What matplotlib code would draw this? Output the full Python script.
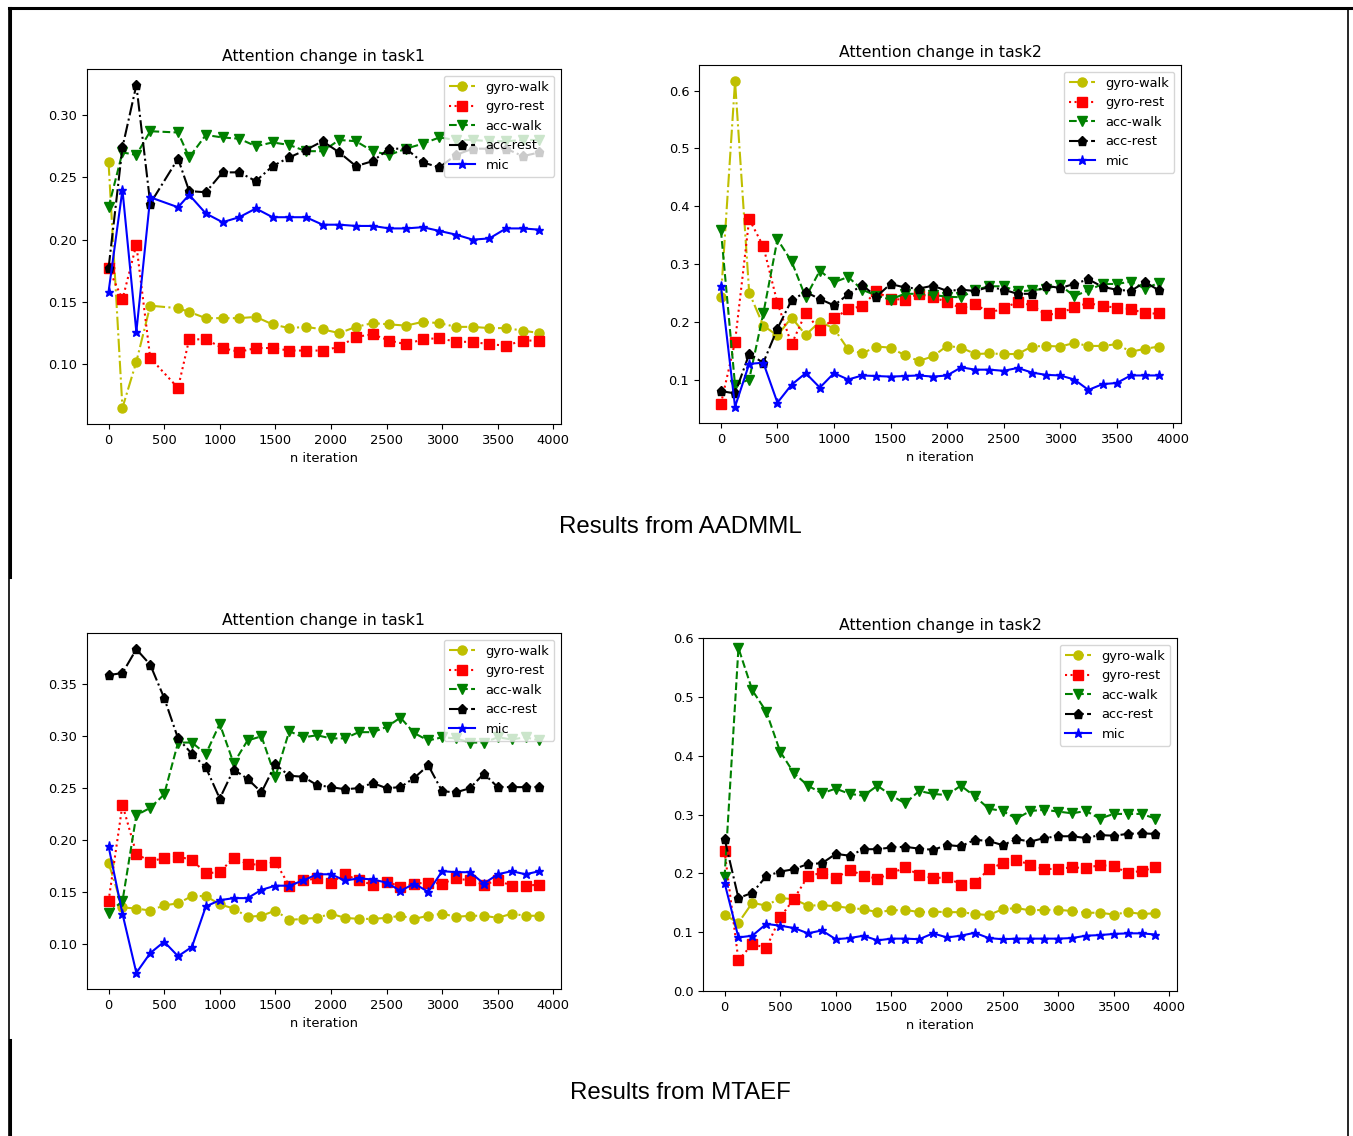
import matplotlib
matplotlib.use("Agg")
import matplotlib.pyplot as plt
from matplotlib.lines import Line2D

# ---------------- data ----------------
series_names = ["gyro-walk", "gyro-rest", "acc-walk", "acc-rest", "mic"]

# iterations (AADMML task1 uses irregular logging steps)
iters_a1 = [0, 125, 250, 375, 625, 725, 875, 1025, 1175, 1325, 1475, 1625, 1775,
            1925, 2075, 2225, 2375, 2525, 2675, 2825, 2975, 3125, 3275, 3425,
            3575, 3725, 3875]
iters = [0, 125, 250, 375, 500, 625, 750, 875, 1000, 1125, 1250, 1375, 1500,
         1625, 1750, 1875, 2000, 2125, 2250, 2375, 2500, 2625, 2750, 2875,
         3000, 3125, 3250, 3375, 3500, 3625, 3750, 3875]

# AADMML - task1
a1_gyro_walk = [0.262, 0.065, 0.102, 0.147, 0.145, 0.142, 0.137, 0.137, 0.137, 0.138,
                0.132, 0.129, 0.130, 0.128, 0.125, 0.130, 0.133, 0.132, 0.131, 0.134,
                0.133, 0.130, 0.130, 0.129, 0.129, 0.127, 0.125]
a1_gyro_rest = [0.177, 0.152, 0.196, 0.105, 0.081, 0.120, 0.120, 0.113, 0.110, 0.113,
                0.113, 0.111, 0.111, 0.111, 0.114, 0.122, 0.124, 0.119, 0.116, 0.120,
                0.121, 0.118, 0.118, 0.116, 0.115, 0.119, 0.119]
a1_acc_walk = [0.226, 0.270, 0.268, 0.287, 0.286, 0.266, 0.284, 0.282, 0.281, 0.275,
               0.278, 0.276, 0.271, 0.271, 0.280, 0.279, 0.271, 0.268, 0.273, 0.277,
               0.282, 0.280, 0.280, 0.279, 0.279, 0.280, 0.280]
a1_acc_rest = [0.177, 0.274, 0.324, 0.229, 0.265, 0.239, 0.238, 0.254, 0.254, 0.247,
               0.259, 0.266, 0.272, 0.279, 0.270, 0.259, 0.263, 0.273, 0.273, 0.262,
               0.258, 0.268, 0.273, 0.273, 0.273, 0.267, 0.270]
a1_mic = [0.158, 0.240, 0.126, 0.234, 0.226, 0.236, 0.221, 0.214, 0.218, 0.225,
          0.218, 0.218, 0.218, 0.212, 0.212, 0.211, 0.211, 0.209, 0.209, 0.210,
          0.207, 0.204, 0.200, 0.201, 0.209, 0.209, 0.208]

# AADMML - task2
a2_gyro_walk = [0.243, 0.616, 0.251, 0.194, 0.177, 0.208, 0.178, 0.201, 0.189, 0.153,
                0.146, 0.158, 0.156, 0.143, 0.133, 0.141, 0.159, 0.156, 0.145, 0.146,
                0.145, 0.145, 0.158, 0.159, 0.158, 0.164, 0.159, 0.159, 0.162, 0.149,
                0.154, 0.158]
a2_gyro_rest = [0.059, 0.166, 0.378, 0.331, 0.233, 0.162, 0.216, 0.186, 0.207, 0.222,
                0.228, 0.253, 0.240, 0.239, 0.249, 0.243, 0.235, 0.224, 0.231, 0.216,
                0.224, 0.235, 0.229, 0.213, 0.215, 0.226, 0.233, 0.228, 0.225, 0.223,
                0.215, 0.215]
a2_acc_walk = [0.359, 0.091, 0.101, 0.215, 0.343, 0.305, 0.243, 0.289, 0.269, 0.278,
               0.256, 0.246, 0.239, 0.249, 0.249, 0.247, 0.244, 0.243, 0.256, 0.262,
               0.262, 0.253, 0.255, 0.258, 0.264, 0.245, 0.255, 0.266, 0.266, 0.270,
               0.258, 0.268]
a2_acc_rest = [0.081, 0.077, 0.145, 0.130, 0.189, 0.238, 0.252, 0.240, 0.229, 0.248,
               0.264, 0.244, 0.266, 0.260, 0.258, 0.263, 0.254, 0.256, 0.254, 0.261,
               0.256, 0.249, 0.249, 0.263, 0.259, 0.266, 0.274, 0.261, 0.256, 0.254,
               0.269, 0.255]
a2_mic = [0.263, 0.054, 0.128, 0.130, 0.061, 0.092, 0.112, 0.087, 0.112, 0.101,
          0.108, 0.107, 0.106, 0.107, 0.108, 0.106, 0.108, 0.122, 0.118, 0.118,
          0.116, 0.121, 0.113, 0.109, 0.108, 0.101, 0.083, 0.093, 0.095, 0.108,
          0.108, 0.108]

# MTAEF - task1
m1_gyro_walk = [0.178, 0.135, 0.134, 0.132, 0.137, 0.139, 0.146, 0.146, 0.138, 0.134,
                0.126, 0.127, 0.132, 0.123, 0.124, 0.125, 0.129, 0.125, 0.124, 0.124,
                0.125, 0.127, 0.124, 0.127, 0.129, 0.126, 0.127, 0.127, 0.125, 0.129,
                0.127, 0.127]
m1_gyro_rest = [0.141, 0.234, 0.187, 0.179, 0.183, 0.184, 0.181, 0.168, 0.169, 0.183,
                0.177, 0.176, 0.179, 0.156, 0.161, 0.163, 0.159, 0.167, 0.161, 0.157,
                0.160, 0.155, 0.158, 0.159, 0.158, 0.163, 0.161, 0.157, 0.161, 0.156,
                0.156, 0.157]
m1_acc_walk = [0.130, 0.141, 0.224, 0.231, 0.244, 0.294, 0.294, 0.283, 0.312, 0.274,
               0.296, 0.300, 0.261, 0.305, 0.299, 0.301, 0.298, 0.298, 0.304, 0.304,
               0.309, 0.318, 0.303, 0.296, 0.299, 0.298, 0.294, 0.294, 0.299, 0.297,
               0.299, 0.296]
m1_acc_rest = [0.359, 0.361, 0.384, 0.369, 0.337, 0.298, 0.283, 0.270, 0.240, 0.268,
               0.259, 0.246, 0.273, 0.262, 0.261, 0.253, 0.251, 0.249, 0.250, 0.255,
               0.250, 0.251, 0.260, 0.272, 0.247, 0.246, 0.250, 0.264, 0.251, 0.251,
               0.251, 0.251]
m1_mic = [0.194, 0.129, 0.072, 0.091, 0.102, 0.088, 0.097, 0.136, 0.142, 0.144,
          0.144, 0.152, 0.156, 0.156, 0.161, 0.167, 0.167, 0.161, 0.163, 0.162,
          0.159, 0.151, 0.158, 0.150, 0.170, 0.169, 0.169, 0.158, 0.167, 0.170,
          0.167, 0.170]

# MTAEF - task2
m2_gyro_walk = [0.129, 0.116, 0.150, 0.145, 0.158, 0.156, 0.145, 0.146, 0.144, 0.141,
                0.139, 0.134, 0.137, 0.138, 0.134, 0.135, 0.134, 0.134, 0.131, 0.129,
                0.139, 0.141, 0.137, 0.138, 0.138, 0.136, 0.133, 0.133, 0.130, 0.134,
                0.131, 0.132]
m2_gyro_rest = [0.238, 0.052, 0.080, 0.073, 0.125, 0.157, 0.195, 0.201, 0.192, 0.206,
                0.196, 0.191, 0.200, 0.210, 0.197, 0.192, 0.193, 0.181, 0.183, 0.207,
                0.217, 0.222, 0.215, 0.207, 0.208, 0.210, 0.209, 0.214, 0.212, 0.201,
                0.204, 0.210]
m2_acc_walk = [0.193, 0.583, 0.511, 0.475, 0.407, 0.370, 0.349, 0.336, 0.344, 0.335,
               0.332, 0.349, 0.332, 0.319, 0.340, 0.335, 0.333, 0.349, 0.331, 0.310,
               0.306, 0.293, 0.306, 0.308, 0.305, 0.302, 0.306, 0.293, 0.301, 0.301,
               0.301, 0.293]
m2_acc_rest = [0.259, 0.158, 0.167, 0.195, 0.203, 0.207, 0.216, 0.217, 0.233, 0.230,
               0.241, 0.241, 0.244, 0.245, 0.242, 0.240, 0.248, 0.246, 0.257, 0.255,
               0.248, 0.258, 0.254, 0.260, 0.263, 0.263, 0.260, 0.265, 0.264, 0.267,
               0.268, 0.267]
m2_mic = [0.184, 0.091, 0.094, 0.114, 0.111, 0.107, 0.098, 0.103, 0.088, 0.090,
          0.094, 0.086, 0.089, 0.089, 0.088, 0.098, 0.091, 0.094, 0.099, 0.090,
          0.088, 0.089, 0.089, 0.089, 0.089, 0.090, 0.094, 0.095, 0.097, 0.098,
          0.098, 0.096]

styles = [dict(color="y", linestyle="-.", marker="o"),
          dict(color="r", linestyle=":", marker="s"),
          dict(color="g", linestyle="--", marker="v"),
          dict(color="k", linestyle="-.", marker="p"),
          dict(color="b", linestyle="-", marker="*")]

W, H = 1353, 1136
fig = plt.figure(figsize=(W / 100, H / 100), dpi=100)

def add_ax(l, t, r, b):
    return fig.add_axes([l / W, 1 - b / H, (r - l) / W, (b - t) / H])

panels = [
    (add_ax(87, 69, 561, 424), iters_a1,
     [a1_gyro_walk, a1_gyro_rest, a1_acc_walk, a1_acc_rest, a1_mic],
     "Attention change in task1", None),
    (add_ax(699, 65, 1181, 423), iters,
     [a2_gyro_walk, a2_gyro_rest, a2_acc_walk, a2_acc_rest, a2_mic],
     "Attention change in task2", None),
    (add_ax(87, 633, 561, 989), iters,
     [m1_gyro_walk, m1_gyro_rest, m1_acc_walk, m1_acc_rest, m1_mic],
     "Attention change in task1", None),
    (add_ax(703, 638, 1177, 991), iters,
     [m2_gyro_walk, m2_gyro_rest, m2_acc_walk, m2_acc_rest, m2_mic],
     "Attention change in task2", (0, 0.6)),
]

fs = 9.4
for ax, xs, ys_list, title, ylim in panels:
    for name, ys, st in zip(series_names, ys_list, styles):
        ax.plot(xs, ys, label=name, linewidth=1.5, markersize=6.5, **st)
    ax.set_title(title, fontsize=11.3)
    ax.set_xlabel("n iteration", fontsize=fs)
    ax.tick_params(labelsize=fs)
    ax.set_xticks([0, 500, 1000, 1500, 2000, 2500, 3000, 3500, 4000])
    if ylim is not None:
        ax.set_ylim(*ylim)
    ax.legend(loc="upper right", fontsize=fs)

# AADMML task1 panel: no 0.05 tick in the reference
panels[0][0].set_yticks([0.10, 0.15, 0.20, 0.25, 0.30])

fig.text(680 / W, 1 - 527 / H, "Results from AADMML", ha="center", va="center",
         fontsize=17.3, family="Liberation Sans")
fig.text(680 / W, 1 - 1093 / H, "Results from MTAEF", ha="center", va="center",
         fontsize=17.3, family="Liberation Sans")

# page borders
def fline(x0, y0, x1, y1, lw):
    fig.add_artist(Line2D([x0 / W, x1 / W], [1 - y0 / H, 1 - y1 / H],
                          color="black", linewidth=lw, transform=fig.transFigure))

fline(9, 8, 1353, 8, 2.2)
fline(9, 8, 9, 1136, 1.2)
fline(10, 8, 10, 577, 2.2)
fline(10, 1040, 10, 1136, 2.2)
fline(1348, 8, 1348, 1136, 1.2)

fig.savefig("out.png", dpi=100)
